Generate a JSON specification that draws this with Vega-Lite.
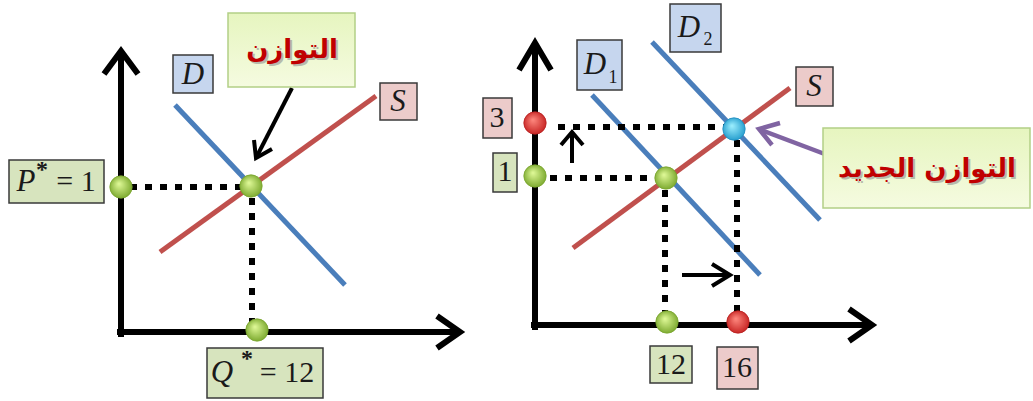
{
  "$schema": "https://vega.github.io/schema/vega-lite/v6.json",
  "width": 1033,
  "height": 401,
  "autosize": {"type": "fit", "contains": "padding"},
  "padding": 0,
  "background": "white",
  "config": {"view": {"stroke": null}},
  "datasets": {
    "axes": [
      {"id": "a1", "o": 1, "x": 121, "y": 337}, {"id": "a1", "o": 2, "x": 121, "y": 52},
      {"id": "a1h", "o": 1, "x": 104, "y": 74}, {"id": "a1h", "o": 2, "x": 121, "y": 51}, {"id": "a1h", "o": 3, "x": 138, "y": 74},
      {"id": "a2", "o": 1, "x": 117, "y": 332}, {"id": "a2", "o": 2, "x": 459, "y": 332},
      {"id": "a2h", "o": 1, "x": 437, "y": 316}, {"id": "a2h", "o": 2, "x": 460, "y": 332}, {"id": "a2h", "o": 3, "x": 437, "y": 348},
      {"id": "a3", "o": 1, "x": 535, "y": 330}, {"id": "a3", "o": 2, "x": 535, "y": 44},
      {"id": "a3h", "o": 1, "x": 519, "y": 70}, {"id": "a3h", "o": 2, "x": 535, "y": 43}, {"id": "a3h", "o": 3, "x": 551, "y": 70},
      {"id": "a4", "o": 1, "x": 531, "y": 325}, {"id": "a4", "o": 2, "x": 871, "y": 325},
      {"id": "a4h", "o": 1, "x": 849, "y": 309}, {"id": "a4h", "o": 2, "x": 872, "y": 325}, {"id": "a4h", "o": 3, "x": 849, "y": 341}
    ],
    "curves": [
      {"id": "D", "c": "D", "o": 1, "x": 175, "y": 105}, {"id": "D", "c": "D", "o": 2, "x": 345, "y": 285},
      {"id": "S", "c": "S", "o": 1, "x": 160, "y": 252}, {"id": "S", "c": "S", "o": 2, "x": 376, "y": 96},
      {"id": "D1", "c": "D", "o": 1, "x": 592, "y": 95}, {"id": "D1", "c": "D", "o": 2, "x": 760, "y": 275},
      {"id": "D2", "c": "D", "o": 1, "x": 652, "y": 42}, {"id": "D2", "c": "D", "o": 2, "x": 820, "y": 220},
      {"id": "S2", "c": "S", "o": 1, "x": 573, "y": 248}, {"id": "S2", "c": "S", "o": 2, "x": 790, "y": 88}
    ],
    "dots": [
      {"id": "h1", "o": 1, "x": 130, "y": 187}, {"id": "h1", "o": 2, "x": 242, "y": 187},
      {"id": "v1", "o": 1, "x": 252, "y": 198}, {"id": "v1", "o": 2, "x": 252, "y": 322},
      {"id": "h2", "o": 1, "x": 558, "y": 127}, {"id": "h2", "o": 2, "x": 724, "y": 127},
      {"id": "h3", "o": 1, "x": 550, "y": 178}, {"id": "h3", "o": 2, "x": 656, "y": 178},
      {"id": "v2", "o": 1, "x": 665, "y": 190}, {"id": "v2", "o": 2, "x": 665, "y": 315},
      {"id": "v3", "o": 1, "x": 737, "y": 140}, {"id": "v3", "o": 2, "x": 737, "y": 315}
    ],
    "arrows": [
      {"id": "u", "o": 1, "x": 572, "y": 163}, {"id": "u", "o": 2, "x": 572, "y": 133},
      {"id": "uh", "o": 1, "x": 561, "y": 145}, {"id": "uh", "o": 2, "x": 572, "y": 132}, {"id": "uh", "o": 3, "x": 583, "y": 145},
      {"id": "r", "o": 1, "x": 682, "y": 275}, {"id": "r", "o": 2, "x": 729, "y": 275},
      {"id": "rh", "o": 1, "x": 712, "y": 264}, {"id": "rh", "o": 2, "x": 730, "y": 275}, {"id": "rh", "o": 3, "x": 712, "y": 286},
      {"id": "b", "o": 1, "x": 292, "y": 88}, {"id": "b", "o": 2, "x": 257, "y": 156},
      {"id": "bh", "o": 1, "x": 254, "y": 140}, {"id": "bh", "o": 2, "x": 256, "y": 158}, {"id": "bh", "o": 3, "x": 272, "y": 149}
    ],
    "purple": [
      {"id": "p", "o": 1, "x": 830, "y": 156}, {"id": "p", "o": 2, "x": 761, "y": 130},
      {"id": "ph", "o": 1, "x": 780, "y": 123}, {"id": "ph", "o": 2, "x": 759, "y": 129}, {"id": "ph", "o": 3, "x": 772, "y": 145}
    ],
    "boxes": [
      {"k": "g", "x": 9, "y": 160, "x2": 104, "y2": 203},
      {"k": "g", "x": 207, "y": 348, "x2": 323, "y2": 398},
      {"k": "g", "x": 493, "y": 153, "x2": 517, "y2": 192},
      {"k": "g", "x": 650, "y": 346, "x2": 692, "y2": 383},
      {"k": "b", "x": 173, "y": 55, "x2": 213, "y2": 93},
      {"k": "b", "x": 577, "y": 40, "x2": 622, "y2": 90},
      {"k": "b", "x": 670, "y": 4, "x2": 721, "y2": 52},
      {"k": "p", "x": 380, "y": 83, "x2": 417, "y2": 120},
      {"k": "p", "x": 796, "y": 67, "x2": 833, "y2": 106},
      {"k": "p", "x": 483, "y": 98, "x2": 512, "y2": 138},
      {"k": "p", "x": 717, "y": 347, "x2": 758, "y2": 389}
    ],
    "callouts": [
      {"x": 228, "y": 13, "x2": 355, "y2": 87},
      {"x": 823, "y": 128, "x2": 1030, "y2": 208}
    ],
    "green": [
      {"x": 121, "y": 187}, {"x": 251, "y": 186}, {"x": 257, "y": 330},
      {"x": 535, "y": 176}, {"x": 666, "y": 178}, {"x": 667, "y": 322}
    ],
    "red": [{"x": 535, "y": 123}, {"x": 738, "y": 322}],
    "blue": [{"x": 734, "y": 129}],
    "ital": [
      {"t": "D", "x": 193, "y": 75}, {"t": "S", "x": 398, "y": 102},
      {"t": "P", "x": 26, "y": 182}, {"t": "Q", "x": 222, "y": 373},
      {"t": "D", "x": 595, "y": 65}, {"t": "D", "x": 689, "y": 28}, {"t": "S", "x": 814, "y": 87}
    ],
    "reg": [
      {"t": "= 1", "x": 76, "y": 182}, {"t": "= 12", "x": 287, "y": 373},
      {"t": "3", "x": 497, "y": 118}, {"t": "1", "x": 505, "y": 172},
      {"t": "12", "x": 671, "y": 365}, {"t": "16", "x": 737, "y": 368}
    ],
    "sub": [{"t": "1", "x": 613, "y": 78}, {"t": "2", "x": 708, "y": 40}],
    "sup": [{"t": "*", "x": 42, "y": 170}, {"t": "*", "x": 247, "y": 359}],
    "arabic": [
      {"t": "التوازن", "x": 292, "y": 50},
      {"t": "التوازن الجديد", "x": 927, "y": 169}
    ]
  },
  "encoding": {
    "x": {"field": "x", "type": "quantitative", "scale": {"domain": [0, 1033], "nice": false, "zero": false}, "axis": null},
    "y": {"field": "y", "type": "quantitative", "scale": {"domain": [0, 401], "reverse": true, "nice": false, "zero": false}, "axis": null}
  },
  "layer": [
    {
      "data": {"name": "curves"},
      "mark": {"type": "line", "strokeWidth": 5, "strokeCap": "butt"},
      "encoding": {
        "detail": {"field": "id"},
        "order": {"field": "o"},
        "color": {"field": "c", "type": "nominal", "scale": {"domain": ["D", "S"], "range": ["#4a7ebb", "#c0504d"]}, "legend": null}
      }
    },
    {
      "data": {"name": "dots"},
      "mark": {"type": "line", "strokeWidth": 6, "color": "black", "strokeDash": [7, 8], "strokeCap": "butt"},
      "encoding": {"detail": {"field": "id"}, "order": {"field": "o"}}
    },
    {
      "data": {"name": "axes"},
      "mark": {"type": "line", "strokeWidth": 6, "color": "black", "strokeJoin": "miter", "strokeCap": "butt", "strokeMiterLimit": 10},
      "encoding": {"detail": {"field": "id"}, "order": {"field": "o"}}
    },
    {
      "data": {"name": "arrows"},
      "mark": {"type": "line", "strokeWidth": 4, "color": "black", "strokeJoin": "miter", "strokeCap": "butt"},
      "encoding": {"detail": {"field": "id"}, "order": {"field": "o"}}
    },
    {
      "data": {"name": "purple"},
      "mark": {"type": "line", "strokeWidth": 4.5, "color": "#8064a2", "strokeJoin": "miter", "strokeCap": "butt"},
      "encoding": {"detail": {"field": "id"}, "order": {"field": "o"}}
    },
    {
      "data": {"name": "boxes"},
      "mark": {"type": "rect", "stroke": "#3a3a3a", "strokeWidth": 1.5},
      "encoding": {
        "x2": {"field": "x2"},
        "y2": {"field": "y2"},
        "fill": {"field": "k", "type": "nominal", "scale": {"domain": ["g", "b", "p"], "range": ["#d7e4be", "#c6d6ee", "#eccbca"]}, "legend": null}
      }
    },
    {
      "data": {"name": "callouts"},
      "mark": {
        "type": "rect", "stroke": "#b3cf86", "strokeWidth": 1.5,
        "fill": {"gradient": "linear", "x1": 0, "y1": 0, "x2": 0, "y2": 1, "stops": [{"offset": 0, "color": "#e6f5bf"}, {"offset": 1, "color": "#f5fbe0"}]}
      },
      "encoding": {"x2": {"field": "x2"}, "y2": {"field": "y2"}}
    },
    {
      "data": {"name": "green"},
      "mark": {
        "type": "point", "shape": "circle", "filled": true, "size": 500, "opacity": 1,
        "fill": {"gradient": "radial", "x1": 0.4, "y1": 0.35, "r1": 0, "x2": 0.5, "y2": 0.5, "r2": 0.6, "stops": [{"offset": 0, "color": "#e2fb9a"}, {"offset": 1, "color": "#6f9f22"}]},
        "stroke": "#7aa52e", "strokeWidth": 0.8
      }
    },
    {
      "data": {"name": "red"},
      "mark": {
        "type": "point", "shape": "circle", "filled": true, "size": 500, "opacity": 1,
        "fill": {"gradient": "radial", "x1": 0.4, "y1": 0.35, "r1": 0, "x2": 0.5, "y2": 0.5, "r2": 0.6, "stops": [{"offset": 0, "color": "#ff8a80"}, {"offset": 1, "color": "#c01818"}]},
        "stroke": "#b82020", "strokeWidth": 0.8
      }
    },
    {
      "data": {"name": "blue"},
      "mark": {
        "type": "point", "shape": "circle", "filled": true, "size": 500, "opacity": 1,
        "fill": {"gradient": "radial", "x1": 0.4, "y1": 0.35, "r1": 0, "x2": 0.5, "y2": 0.5, "r2": 0.6, "stops": [{"offset": 0, "color": "#9ff0ff"}, {"offset": 1, "color": "#1794c8"}]},
        "stroke": "#1f8cbf", "strokeWidth": 0.8
      }
    },
    {
      "data": {"name": "ital"},
      "mark": {"type": "text", "font": "Liberation Serif", "fontStyle": "italic", "fontSize": 31, "color": "#1a1a1a", "align": "center", "baseline": "middle"},
      "encoding": {"text": {"field": "t"}}
    },
    {
      "data": {"name": "reg"},
      "mark": {"type": "text", "font": "Liberation Serif", "fontSize": 30, "color": "#1a1a1a", "align": "center", "baseline": "middle"},
      "encoding": {"text": {"field": "t"}}
    },
    {
      "data": {"name": "sub"},
      "mark": {"type": "text", "font": "Liberation Serif", "fontSize": 18, "color": "#1a1a1a", "align": "center", "baseline": "middle"},
      "encoding": {"text": {"field": "t"}}
    },
    {
      "data": {"name": "sup"},
      "mark": {"type": "text", "font": "Liberation Serif", "fontSize": 24, "fontWeight": "bold", "color": "#1a1a1a", "align": "center", "baseline": "middle"},
      "encoding": {"text": {"field": "t"}}
    },
    {
      "data": {"name": "arabic"},
      "mark": {"type": "text", "font": "DejaVu Sans", "fontWeight": "bold", "fontSize": 26, "color": "#8a8a8a", "opacity": 0.55, "align": "center", "baseline": "middle", "dx": 2, "dy": 2},
      "encoding": {"text": {"field": "t"}}
    },
    {
      "data": {"name": "arabic"},
      "mark": {"type": "text", "font": "DejaVu Sans", "fontWeight": "bold", "fontSize": 26, "color": "#c00000", "align": "center", "baseline": "middle"},
      "encoding": {"text": {"field": "t"}}
    }
  ]
}
